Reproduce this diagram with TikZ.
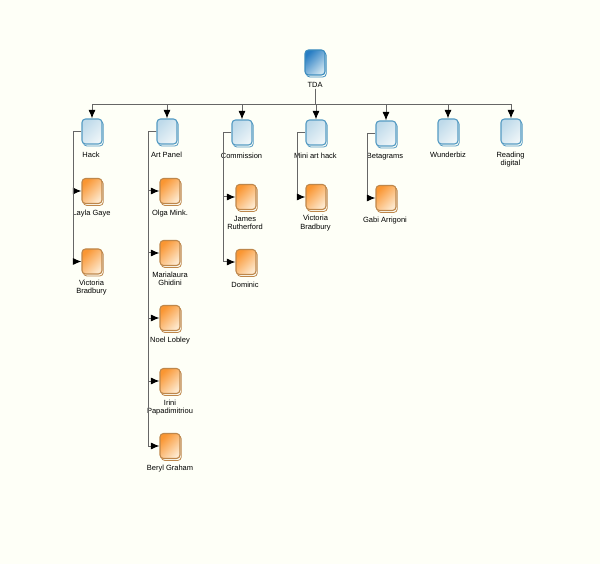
\documentclass[tikz,border=0pt]{standalone}
\usepackage{fontspec}
\setmainfont{Liberation Sans}
\usetikzlibrary{arrows.meta,shadows}
\definecolor{paper}{RGB}{254,255,247}
\definecolor{rootdark}{RGB}{40,125,195}
\definecolor{rootlight}{RGB}{205,228,240}
\definecolor{rootline}{RGB}{60,140,190}
\definecolor{grouplight}{RGB}{238,245,248}
\definecolor{groupdark}{RGB}{190,218,234}
\definecolor{groupline}{RGB}{85,155,195}
\definecolor{persondark}{RGB}{250,150,50}
\definecolor{personlight}{RGB}{253,232,205}
\definecolor{personline}{RGB}{190,135,75}
\tikzset{
  sheet/.style={minimum width=20pt,minimum height=25pt,inner sep=0pt,rounded corners=3.5pt,line width=1.1pt},
  rootbox/.style={sheet,draw=rootline,top color=rootdark,bottom color=rootlight,shading angle=45,
    copy shadow={shadow xshift=1.3pt,shadow yshift=-2pt,fill=paper,draw=rootline,line width=0.8pt}},
  groupbox/.style={sheet,draw=groupline,top color=groupdark,bottom color=grouplight,shading angle=45,
    copy shadow={shadow xshift=1.3pt,shadow yshift=-2pt,fill=paper,draw=groupline,line width=0.8pt}},
  personbox/.style={sheet,draw=personline,top color=persondark,bottom color=personlight,shading angle=45,
    copy shadow={shadow xshift=1.3pt,shadow yshift=-2pt,fill=paper,draw=personline,line width=0.8pt}},
  caption/.style={font=\fontsize{7.5}{8.6}\selectfont,text=black,align=center,inner sep=1pt},
  link/.style={draw=black!60,line width=1pt,-{Latex[length=8.5pt,width=7pt,color=black]}}
}
\begin{document}
\begin{tikzpicture}[x=1pt,y=-1pt]

        % Page
        \fill[paper] (0,0) rectangle (600,564);
        \useasboundingbox (0,0) rectangle (600,564);

        % Top
        \node[rootbox] (tda) at (315,62.5) {};
        \node[caption] (tdaText) at (315,85) {TDA};

        % Groups
        \node[groupbox] (hack) at (92,131.5) {};
        \node[caption] at (91,155) {Hack};
        \node[groupbox] (artpanel) at (167,131.5) {};
        \node[caption] at (166.5,155) {Art Panel};
        \node[groupbox] (commission) at (242,132.5) {};
        \node[caption] at (241.5,156) {Commission};
        \node[groupbox] (miniart) at (316,132.5) {};
        \node[caption] at (315.5,156) {Mini art hack};
        \node[groupbox] (betagrams) at (386,133.5) {};
        \node[caption] at (385,156.5) {Betagrams};
        \node[groupbox] (wunderbiz) at (448,131.5) {};
        \node[caption] at (448,155) {Wunderbiz};
        \node[groupbox] (reading) at (511,131.5) {};
        \node[caption] at (510.5,159.5) {Reading\\digital};

        % Hack people
        \node[personbox] (layla) at (92,191) {};
        \node[caption] at (91.5,214) {Layla Gaye};
        \node[personbox] (victoriaA) at (92,261.5) {};
        \node[caption] at (91.5,287.5) {Victoria\\Bradbury};

        % Art Panel people
        \node[personbox] (olga) at (170,191) {};
        \node[caption] at (170,214) {Olga Mink.};
        \node[personbox] (marialaura) at (170,253) {};
        \node[caption] at (170,279) {Marialaura\\Ghidini};
        \node[personbox] (noel) at (170,318) {};
        \node[caption] at (170,341) {Noel Lobley};
        \node[personbox] (irini) at (170,381) {};
        \node[caption] at (170,407.5) {Irini\\Papadimitriou};
        \node[personbox] (beryl) at (170,446) {};
        \node[caption] at (170,468.5) {Beryl Graham};

        % Commission people
        \node[personbox] (james) at (246,197) {};
        \node[caption] at (245,223) {James\\Rutherford};
        \node[personbox] (dominic) at (246,262) {};
        \node[caption] at (245,285) {Dominic};

        % Mini art hack people
        \node[personbox] (victoriaB) at (316,197) {};
        \node[caption] at (315.5,223) {Victoria\\Bradbury};

        % Betagrams people
        \node[personbox] (gabi) at (386,198) {};
        \node[caption] at (385,220.5) {Gabi Arrigoni};

        % Bends
        \coordinate (bus) at (315,105);
        \coordinate (hackBend) at (73,131.5);
        \coordinate (artBend) at (148,131.5);
        \coordinate (commissionBend) at (223,132.5);
        \coordinate (miniBend) at (297,132.5);
        \coordinate (betaBend) at (367,133.5);

        % Arrows
        \draw[link] (tdaText.south) -- (bus) -| (hack.north);
        \draw[link] (tdaText.south) -- (bus) -| (artpanel.north);
        \draw[link] (tdaText.south) -- (bus) -| (commission.north);
        \draw[link] (tdaText.south) -- (bus) -| (miniart.north);
        \draw[link] (tdaText.south) -- (bus) -| (betagrams.north);
        \draw[link] (tdaText.south) -- (bus) -| (wunderbiz.north);
        \draw[link] (tdaText.south) -- (bus) -| (reading.north);

        \draw[link] (hack.west) -- (hackBend) |- (layla.west);
        \draw[link] (hack.west) -- (hackBend) |- (victoriaA.west);
        \draw[link] (artpanel.west) -- (artBend) |- (olga.west);
        \draw[link] (artpanel.west) -- (artBend) |- (marialaura.west);
        \draw[link] (artpanel.west) -- (artBend) |- (noel.west);
        \draw[link] (artpanel.west) -- (artBend) |- (irini.west);
        \draw[link] (artpanel.west) -- (artBend) |- (beryl.west);
        \draw[link] (commission.west) -- (commissionBend) |- (james.west);
        \draw[link] (commission.west) -- (commissionBend) |- (dominic.west);
        \draw[link] (miniart.west) -- (miniBend) |- (victoriaB.west);
        \draw[link] (betagrams.west) -- (betaBend) |- (gabi.west);

\end{tikzpicture}
\end{document}
